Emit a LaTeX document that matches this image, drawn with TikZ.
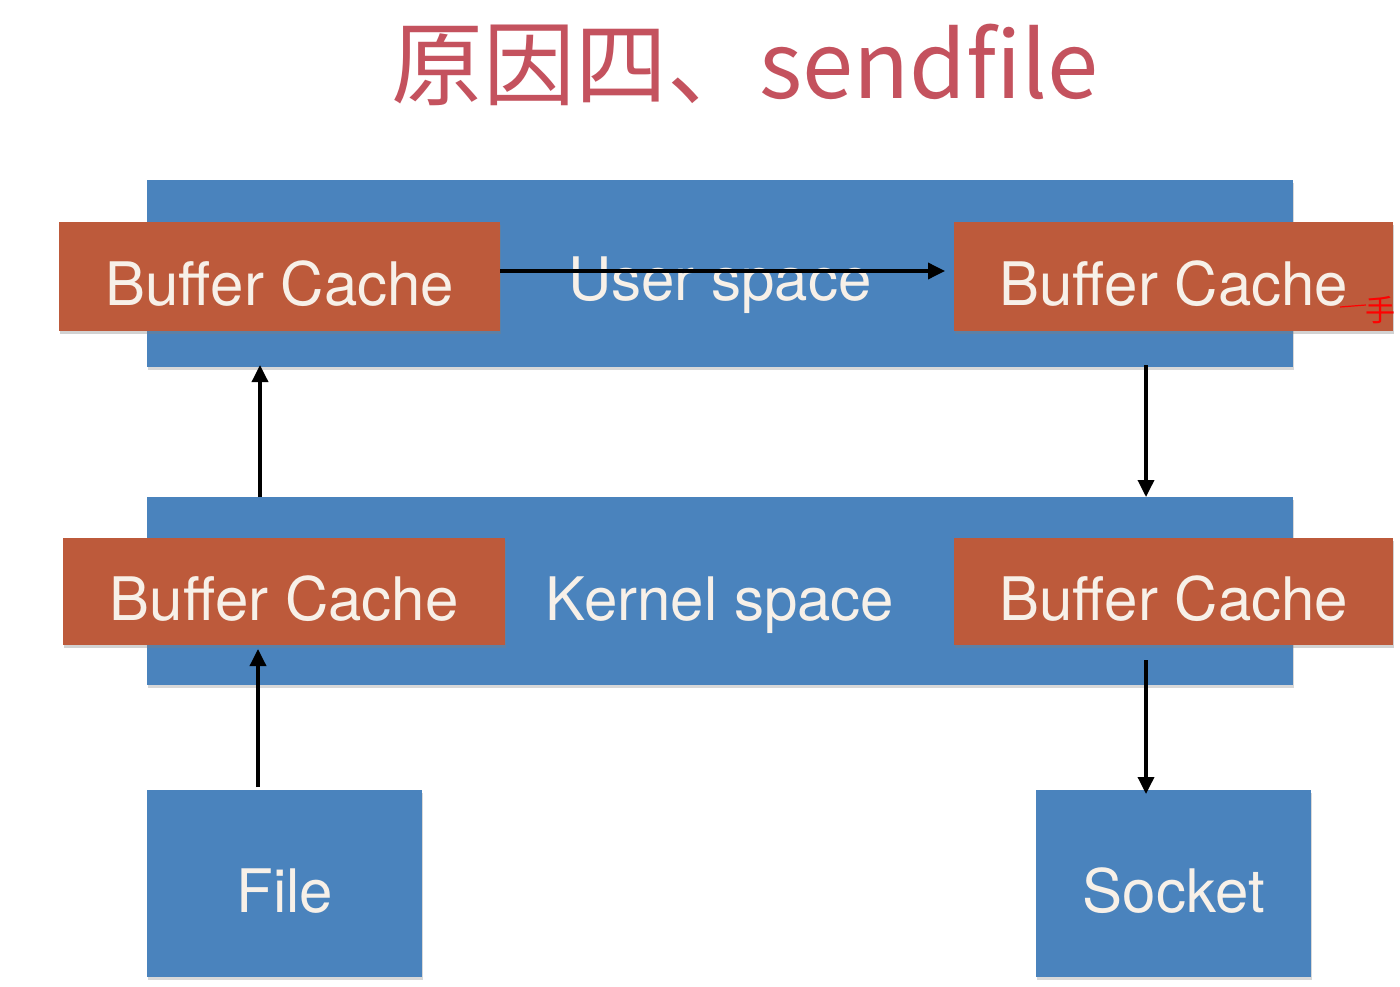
\documentclass[tikz,border=0pt]{standalone}
\usepackage{fontspec}
\setmainfont{TeX Gyre Heros}
\newfontfamily\cjk{Noto Sans CJK SC}
\usetikzlibrary{shadows,arrows.meta}
\definecolor{bandblue}{HTML}{4A83BD}
\definecolor{cacheorange}{HTML}{BD5A3B}
\definecolor{titlered}{HTML}{C4525E}
\definecolor{textwhite}{HTML}{F7F0E8}
\tikzset{
  band/.style={fill=bandblue, draw=none, inner sep=0pt, anchor=north west,
    drop shadow={opacity=0.3, shadow xshift=1pt, shadow yshift=-3pt}},
  cachebox/.style={fill=cacheorange, draw=none, inner sep=0pt, anchor=north west,
    text=textwhite, font=\fontsize{60}{60}\selectfont, text height=57pt, text depth=0pt,
    drop shadow={opacity=0.35, shadow xshift=1pt, shadow yshift=-3pt}},
  devbox/.style={fill=bandblue, draw=none, inner sep=0pt, anchor=north west,
    text=textwhite, font=\fontsize{60}{60}\selectfont, text height=57pt, text depth=0pt,
    drop shadow={opacity=0.3, shadow xshift=1pt, shadow yshift=-3pt}},
  bandlabel/.style={text=textwhite, font=\fontsize{60}{60}\selectfont, inner sep=0pt, anchor=base},
  flow/.style={draw=black, line width=3.5pt, -{Triangle[length=17pt,width=16pt]}},
}
\begin{document}
\begin{tikzpicture}[x=1pt,y=-1pt]
\useasboundingbox[fill=white] (0,0) rectangle (1400,987);
% title
\node[text=titlered, font=\cjk\fontsize{92}{92}\selectfont, inner sep=0pt] (title) at (745,65) {原因四、sendfile};
% bands
\node[band, minimum width=1146pt, minimum height=187pt] (user) at (147,180) {};
\node[band, minimum width=1146pt, minimum height=188pt] (kernel) at (147,497) {};
\node[bandlabel] (userlbl) at (720,300) {User space};
\node[bandlabel] (kernlbl) at (720,620) {Kernel space};
% caches
\node[cachebox, minimum width=441pt, minimum height=109pt] (ul) at (59,222) {Buffer Cache};
\node[cachebox, minimum width=439pt, minimum height=109pt] (ur) at (954,222) {Buffer Cache};
\node[cachebox, minimum width=442pt, minimum height=107pt] (kl) at (63,538) {Buffer Cache};
\node[cachebox, minimum width=439pt, minimum height=107pt] (kr) at (954,538) {Buffer Cache};
% devices
\node[devbox, minimum width=275pt, minimum height=187pt] (file) at (147,790) {File};
\node[devbox, minimum width=275pt, minimum height=187pt] (sock) at (1036,790) {Socket};
% arrows
\draw[flow] (ul.east |- 0,271) -- (945,271) coordinate (uend);
\draw[flow] (260,497) -- (260,365);
\draw[flow] (1146,365) -- (1146,497);
\draw[flow] (258,787) -- (258,649);
\draw[flow] (1146,660) -- (1146,794);
% red annotation
\draw[red, line width=1.2pt] (1340,307) -- (1366,305);
\node[text=red, font=\cjk\fontsize{30}{30}\selectfont, inner sep=0pt] (mark) at (1380,310) {手};
\end{tikzpicture}
\end{document}
